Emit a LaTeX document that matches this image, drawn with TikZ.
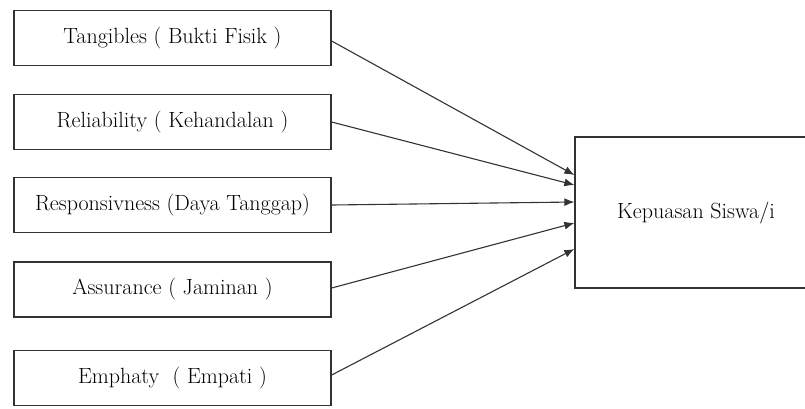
\documentclass[tikz,border=0pt]{standalone}
\usetikzlibrary{arrows.meta,calc}
\begin{document}
\begin{tikzpicture}[x=1pt,y=-1pt,
  box/.style={draw=black!80,line width=1.3pt,minimum width=317pt,minimum height=55pt,inner sep=0pt,font=\fontsize{22}{25}\selectfont},
  tgt/.style={draw=black!80,line width=1.3pt,minimum width=242pt,minimum height=151pt,inner sep=0pt,font=\fontsize{22}{25}\selectfont},
  conn/.style={draw=black!80,line width=1.1pt,-{Latex[length=10pt,width=8pt]}}]
\useasboundingbox[fill=white] (0,0) rectangle (805,408);
\node[box] (b1) at (172.5,38) {Tangibles ( Bukti Fisik )};
\node[box] (b2) at (172.5,122) {Reliability ( Kehandalan )};
\node[box] (b3) at (172.5,205) {Responsivness (Daya Tanggap)};
\node[box] (b4) at (172.5,289.5) {Assurance ( Jaminan )};
\node[box] (b5) at (172.5,378) {Emphaty \ ( Empati )};
\node[tgt] (k) at (696,212.5) {Kepuasan Siswa/i};
\coordinate (t1) at ($(k.west)+(0,-37.5)$);
\coordinate (t2) at ($(k.west)+(0,-27.5)$);
\coordinate (t3) at ($(k.west)+(0,-10.5)$);
\coordinate (t4) at ($(k.west)+(0,10.5)$);
\coordinate (t5) at ($(k.west)+(0,36.5)$);
\draw[conn] ($(b1.east)+(0,3)$) -- (t1);
\draw[conn] (b2.east) -- (t2);
\draw[conn] (b3.east) -- (t3);
\draw[conn] ($(b4.east)+(0,-1.5)$) -- (t4);
\draw[conn] ($(b5.east)+(0,-3)$) -- (t5);
\end{tikzpicture}
\end{document}
